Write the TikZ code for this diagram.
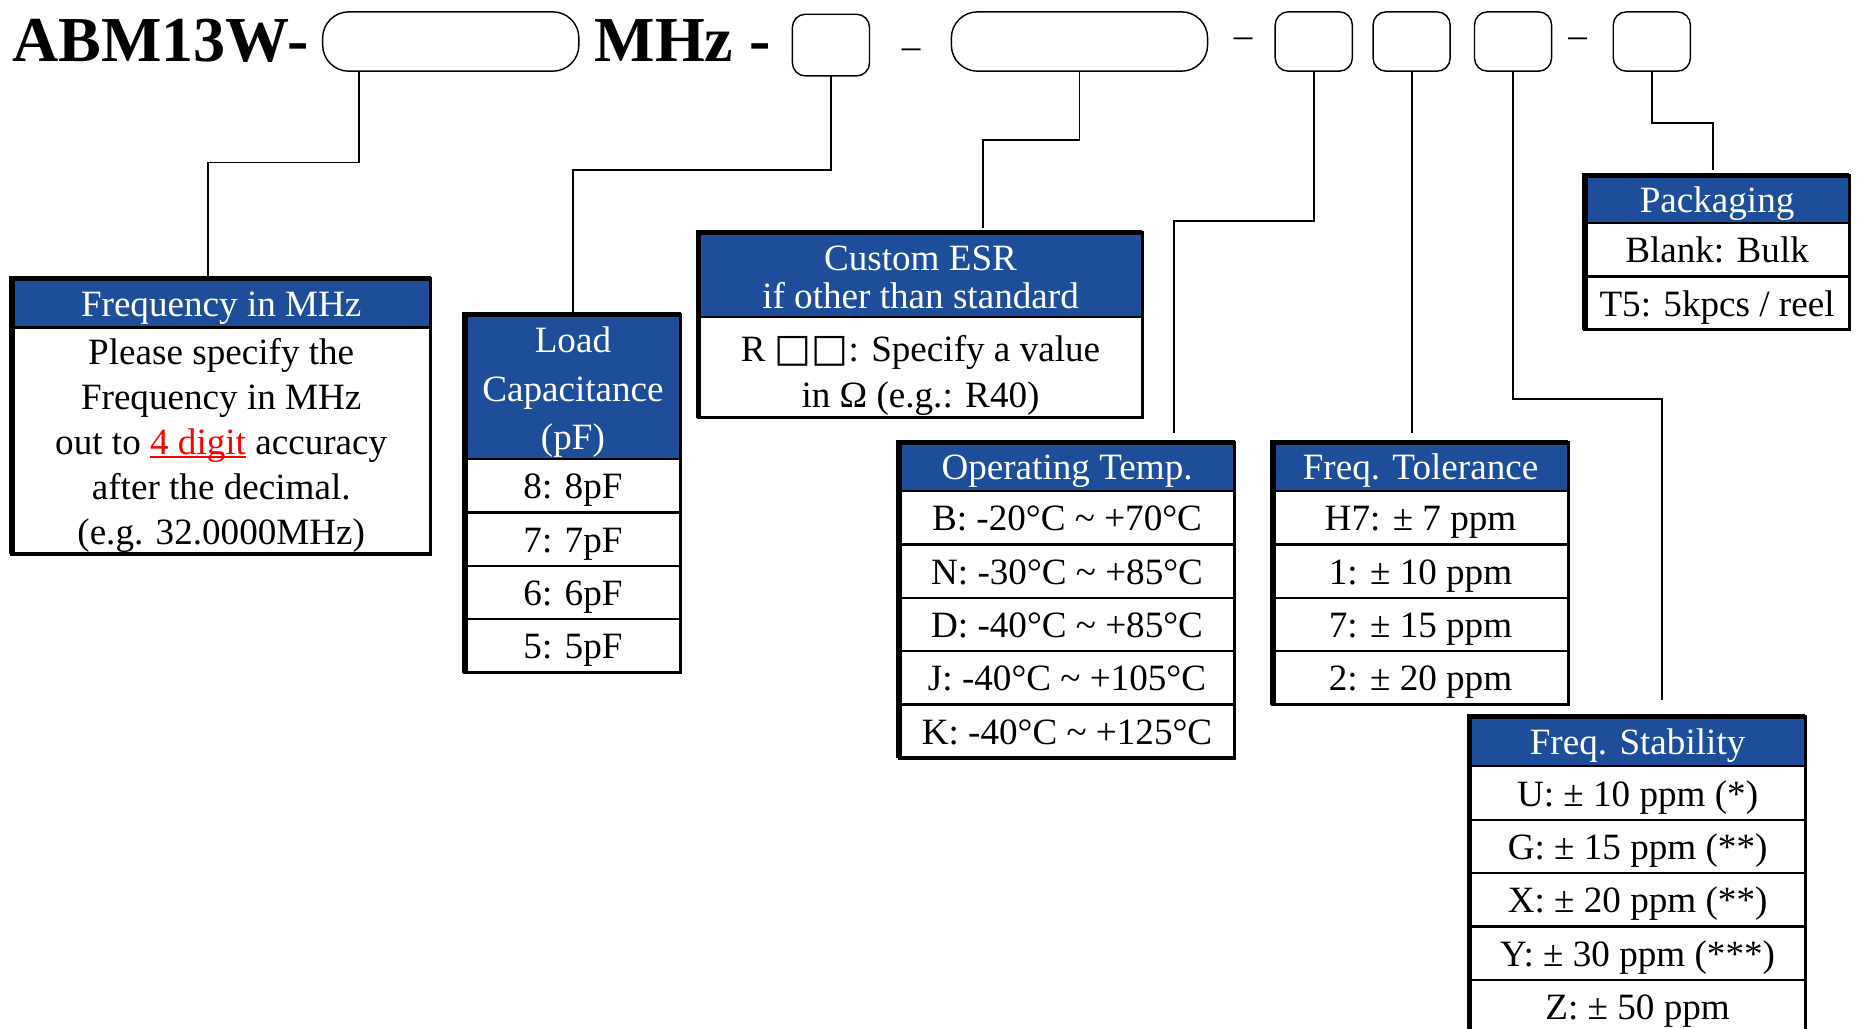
\documentclass[tikz,border=0pt]{standalone}
\usepackage{fontspec}
\setmainfont{Liberation Serif}
\newfontfamily\boxglyph[Scale=1.05]{DejaVu Sans}
\usepackage{tikz}
\usetikzlibrary{positioning}
\definecolor{headbluec}{HTML}{1E4E9A}
\colorlet{headblue}{headbluec}
\colorlet{headtext}{white}
\newcommand\cellfont{\fontsize{31.3}{38}\selectfont}
\newcommand\codefont{\fontsize{54}{60}\selectfont\bfseries}
\newcommand\redul[1]{\textcolor{red}{\setbox0=\hbox{#1}\rlap{\rule[-3pt]{\wd0}{1.5pt}}\box0}}
\newcommand\lift[1]{\rule{0pt}{#1}}
\tikzstyle{slot} = [
    draw=black,
    line width=1.2pt,
    rounded corners=22pt,
    minimum width=216pt,
    minimum height=50pt,
    inner sep=0pt,
    outer sep=0pt
    ]
\tikzstyle{smallslot} = [slot, rounded corners=11pt, minimum width=65pt]
\tikzstyle{headcell} = [
    draw=black,
    fill=headblue,
    text=headtext,
    line width=2pt,
    inner sep=0pt,
    outer sep=0pt,
    align=center,
    font=\cellfont
    ]
\tikzstyle{rowcell} = [
    draw=black,
    fill=white,
    line width=2pt,
    inner sep=0pt,
    outer sep=0pt,
    minimum height=45pt,
    font=\cellfont
    ]
\tikzstyle{fixline} = [text height=26pt, text depth=4pt]
\tikzstyle{boxframe} = [draw=black, line width=2.6pt]
\tikzstyle{boxedge} = [draw=black, line width=4.6pt]
\tikzstyle{wire} = [draw=black, line width=1.6pt]
\tikzstyle{sep} = [font=\cellfont, inner sep=0pt]

\begin{document}
\begin{tikzpicture}[x=1pt, y=-1pt]
\useasboundingbox (0,0) rectangle (1568,867);

% part number with its code slots
\node[anchor=base west, inner sep=0pt, font=\codefont] (pn) at (10,52) {ABM13W-};
\node[slot] (s1) at (380,35) {};
\node[anchor=base west, inner sep=0pt, font=\codefont] (mhz) at (501,52) {MHz -};
\node[smallslot, minimum height=52pt] (s2) at (700.5,38) {};
\node[sep] (d1) at (768,45) {–};
\node[slot] (s3) at (910,35) {};
\node[sep] (d2) at (1048,36) {–};
\node[smallslot] (s4) at (1107.5,35) {};
\node[smallslot] (s5) at (1190,35) {};
\node[smallslot] (s6) at (1275.5,35) {};
\node[sep] (d3) at (1330,36) {–};
\node[smallslot] (s7) at (1392.5,35) {};

% frequency
\node[headcell, fixline, minimum width=353pt, minimum height=41pt, anchor=north west] (fhead) at (10,235) {Frequency in MHz};
\node[rowcell, align=center, minimum width=353pt, minimum height=191pt, below=0pt of fhead] (fbody) {\lift{30pt}Please specify the\\Frequency in MHz\\out to \redul{4 digit} accuracy\\after the decimal.\\(e.g. 32.0000MHz)};
\draw[boxframe] (fhead.north west) rectangle (fbody.south east);
\draw[boxedge] (fbody.south west) -- (fhead.north west) -- (fhead.north east);

% load capacitance
\begin{scope}[every node/.append style={minimum width=182pt}]
\node[headcell, minimum height=122pt, anchor=north west] (chead) at (392,265) {\lift{31pt}Load\\[3pt]Capacitance\\[3pt](pF)};
\node[rowcell, fixline, below=0pt of chead] (c8) {8: 8pF};
\node[rowcell, fixline, below=0pt of c8] (c7) {7: 7pF};
\node[rowcell, fixline, below=0pt of c7] (c6) {6: 6pF};
\node[rowcell, fixline, below=0pt of c6] (c5) {5: 5pF};
\end{scope}
\draw[boxframe] (chead.north west) rectangle (c5.south east);
\draw[boxedge] (c5.south west) -- (chead.north west) -- (chead.north east);

% custom esr
\node[headcell, minimum width=374pt, minimum height=71pt, anchor=north west] (ehead) at (589,196) {\lift{26pt}Custom ESR\\[-6pt]if other than standard};
\node[rowcell, align=center, minimum width=374pt, minimum height=85pt, below=0pt of ehead] (ebody) {\lift{36pt}R {\boxglyph □□}: Specify a value\\in Ω (e.g.: R40)};
\draw[boxframe] (ehead.north west) rectangle (ebody.south east);
\draw[boxedge] (ebody.south west) -- (ehead.north west) -- (ehead.north east);

% operating temperature
\begin{scope}[every node/.append style={minimum width=283pt}]
\node[headcell, fixline, minimum height=41pt, anchor=north west] (thead) at (758,373) {Operating Temp.};
\node[rowcell, fixline, below=0pt of thead] (tb) {B: -20°C \textasciitilde{} +70°C};
\node[rowcell, fixline, below=0pt of tb] (tn) {N: -30°C \textasciitilde{} +85°C};
\node[rowcell, fixline, below=0pt of tn] (td) {D: -40°C \textasciitilde{} +85°C};
\node[rowcell, fixline, below=0pt of td] (tj) {J: -40°C \textasciitilde{} +105°C};
\node[rowcell, fixline, below=0pt of tj] (tk) {K: -40°C \textasciitilde{} +125°C};
\end{scope}
\draw[boxframe] (thead.north west) rectangle (tk.south east);
\draw[boxedge] (tk.south west) -- (thead.north west) -- (thead.north east);

% frequency tolerance
\begin{scope}[every node/.append style={minimum width=249pt}]
\node[headcell, fixline, minimum height=41pt, anchor=north west] (tolhead) at (1073,373) {Freq. Tolerance};
\node[rowcell, fixline, below=0pt of tolhead] (tolh) {H7: ± 7 ppm};
\node[rowcell, fixline, below=0pt of tolh] (tol1) {1: ± 10 ppm};
\node[rowcell, fixline, below=0pt of tol1] (tol7) {7: ± 15 ppm};
\node[rowcell, fixline, below=0pt of tol7] (tol2) {2: ± 20 ppm};
\end{scope}
\draw[boxframe] (tolhead.north west) rectangle (tol2.south east);
\draw[boxedge] (tol2.south west) -- (tolhead.north west) -- (tolhead.north east);

% packaging
\begin{scope}[every node/.append style={minimum width=223pt}]
\node[headcell, fixline, minimum height=40pt, anchor=north west] (phead) at (1336,148) {Packaging};
\node[rowcell, fixline, below=0pt of phead] (pbulk) {Blank: Bulk};
\node[rowcell, fixline, below=0pt of pbulk] (preel) {T5: 5kpcs / reel};
\end{scope}
\draw[boxframe] (phead.north west) rectangle (preel.south east);
\draw[boxedge] (preel.south west) -- (phead.north west) -- (phead.north east);

% frequency stability
\begin{scope}[every node/.append style={minimum width=283pt}]
\node[headcell, fixline, minimum height=42pt, anchor=north west] (shead) at (1239,604) {Freq. Stability};
\node[rowcell, fixline, below=0pt of shead] (su) {U: ± 10 ppm (*)};
\node[rowcell, fixline, below=0pt of su] (sg) {G: ± 15 ppm (**)};
\node[rowcell, fixline, below=0pt of sg] (sx) {X: ± 20 ppm (**)};
\node[rowcell, fixline, below=0pt of sx] (sy) {Y: ± 30 ppm (***)};
\node[rowcell, fixline, below=0pt of sy] (sz) {Z: ± 50 ppm};
\end{scope}
\draw[boxframe] (shead.north west) rectangle (sz.south east);
\draw[boxedge] (sz.south west) -- (shead.north west) -- (shead.north east);

% connectors
\draw[wire] ([xshift=-77pt]s1.south) -- ++(0,77) -| ([xshift=-11.5pt]fhead.north);
\draw[wire] (s2.south) -- ++(0,79) -| (chead.north);
\draw[wire] (s3.south) -- ++(0,58) -| ([xshift=53pt,yshift=4pt]ehead.north);
\draw[wire] (s4.south) -- ++(0,126) -| ([xshift=90.5pt,yshift=8pt]thead.north);
\draw[wire] (s5.south) -- ([yshift=8pt]s5.south |- tolhead.north);
\draw[wire] (s6.south) -- ++(0,276) -| ([xshift=20.5pt,yshift=14pt]shead.north);
\draw[wire] (s7.south) -- ++(0,44) -| ([xshift=-3.5pt,yshift=5pt]phead.north);
\end{tikzpicture}
\end{document}
